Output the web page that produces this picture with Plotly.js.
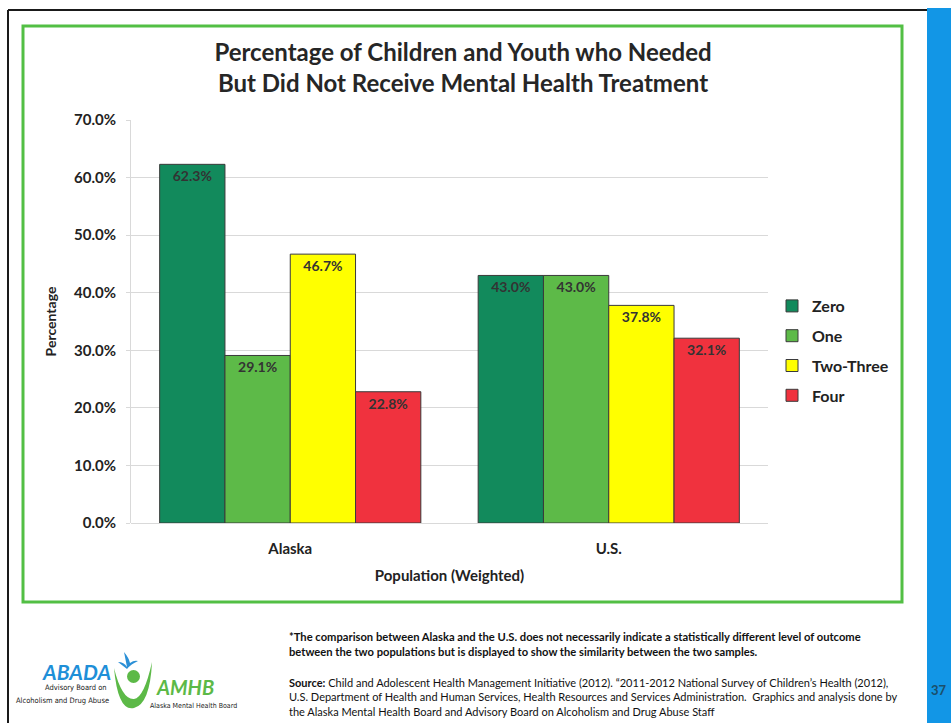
<!DOCTYPE html>
<html>
<head>
<meta charset="utf-8">
<script src="https://cdn.plot.ly/plotly-3.0.1.min.js"></script>
<style>html,body{margin:0;padding:0;background:#fff;}#chart{width:951px;height:723px;}</style>
</head>
<body>
<div id="chart"></div>
<script>
// ---- data ----
const categories = ["Alaska", "U.S."];
const seriesNames = ["Zero", "One", "Two-Three", "Four"];
const zeroVals = [62.3, 43.0];
const oneVals = [29.1, 43.0];
const twoThreeVals = [46.7, 37.8];
const fourVals = [22.8, 32.1];
const yTickVals = [0, 10, 20, 30, 40, 50, 60, 70];

const colors = ["#128a5c", "#5dba48", "#ffff00", "#f0323e"];
const FONT = "Lato, 'Open Sans', sans-serif";
const NARROW = "'Liberation Sans Narrow', 'DejaVu Sans Condensed', sans-serif";

// plot area in pixels: x 131..768, y 120..523
const L = 131, R = 768, T = 120, B = 523, W = 951, H = 723;
const px = x => (x - L) / (R - L);
const py = y => (B - y) / (B - T);

const allVals = [zeroVals, oneVals, twoThreeVals, fourVals];
const traces = allVals.map((vals, i) => ({
  type: "bar",
  name: seriesNames[i],
  x: categories,
  y: vals,
  legendgroup: "g" + i,
  marker: {color: colors[i], line: {color: "#3a3a3a", width: 1}},
  text: vals.map(v => v.toFixed(1) + "%"),
  textposition: "inside",
  insidetextanchor: "end",
  textangle: 0,
  constraintext: "none",
  textfont: {family: FONT, size: 14, color: "#333333", weight: "bold"},
  hoverinfo: "skip"
}));

const shapes = [
  // scanned page frame
  {type: "line", xref: "paper", yref: "paper", x0: px(8), x1: px(8), y0: py(10), y1: py(723), line: {color: "#1a1a1a", width: 2}},
  {type: "line", xref: "paper", yref: "paper", x0: px(8), x1: px(927), y0: py(10), y1: py(10), line: {color: "#1a1a1a", width: 2}},
  // green chart border
  {type: "rect", xref: "paper", yref: "paper", x0: px(23), x1: px(902), y0: py(26), y1: py(602), line: {color: "#52bf44", width: 3}, layer: "below"},
  // blue side strip
  {type: "rect", xref: "paper", yref: "paper", x0: px(927), x1: px(951), y0: py(8), y1: py(723), fillcolor: "#1296e6", line: {width: 0}, layer: "below"},
  // logo figure: head + arms
  {type: "circle", xref: "paper", yref: "paper", x0: px(127), x1: px(140), y0: py(670), y1: py(683), fillcolor: "#5cb947", line: {width: 0}},
  {type: "path", xref: "paper", yref: "paper",
   path: `M ${px(114)} ${py(668)} Q ${px(118)} ${py(712)} ${px(134)} ${py(708)} Q ${px(150)} ${py(704)} ${px(152)} ${py(662)} Q ${px(144)} ${py(698)} ${px(134)} ${py(699)} Q ${px(122)} ${py(700)} ${px(114)} ${py(668)} Z`,
   fillcolor: "#5cb947", line: {width: 0}},
  // bird
  {type: "path", xref: "paper", yref: "paper",
   path: `M ${px(118)} ${py(662)} Q ${px(124)} ${py(662)} ${px(127)} ${py(667)} L ${px(124)} ${py(652)} Q ${px(129)} ${py(658)} ${px(130)} ${py(663)} Q ${px(134)} ${py(660)} ${px(138)} ${py(661)} Q ${px(131)} ${py(664)} ${px(127)} ${py(669)} Z`,
   fillcolor: "#2a8fd6", line: {width: 0}}
];

const annotations = [
  {text: "*The comparison between Alaska and the U.S. does not necessarily indicate a statistically different level of outcome<br>between the two populations but is displayed to show the similarity between the two samples.",
   xref: "paper", yref: "paper", x: px(287), y: py(628), xanchor: "left", yanchor: "top", align: "left", showarrow: false,
   font: {family: FONT, size: 11.2, color: "#111", weight: "bold"}},
  {text: "<b>Source:</b> Child and Adolescent Health Management Initiative (2012). \u201C2011-2012 National Survey of Children\u2019s Health (2012),<br>U.S. Department of Health and Human Services, Health Resources and Services Administration.  Graphics and analysis done by<br>the Alaska Mental Health Board and Advisory Board on Alcoholism and Drug Abuse Staff",
   xref: "paper", yref: "paper", x: px(287), y: py(674), xanchor: "left", yanchor: "top", align: "left", showarrow: false,
   font: {family: FONT, size: 11, color: "#111"}},
  {text: "37", xref: "paper", yref: "paper", x: px(939), y: py(690), xanchor: "center", yanchor: "middle", showarrow: false,
   font: {family: FONT, size: 13, color: "#1b4f6a", weight: "bold"}},
  // logo text
  {text: "<b><i>ABADA</i></b>", xref: "paper", yref: "paper", x: px(76), y: py(671), xanchor: "center", yanchor: "middle", showarrow: false,
   font: {family: FONT, size: 21, color: "#1e8fd8"}},
  {text: "Advisory Board on", xref: "paper", yref: "paper", x: px(76), y: py(687), xanchor: "center", yanchor: "middle", showarrow: false,
   font: {family: NARROW, size: 7.5, color: "#222"}},
  {text: "Alcoholism and Drug Abuse", xref: "paper", yref: "paper", x: px(62), y: py(700), xanchor: "center", yanchor: "middle", showarrow: false,
   font: {family: NARROW, size: 7.5, color: "#222"}},
  {text: "<b><i>AMHB</i></b>", xref: "paper", yref: "paper", x: px(185), y: py(687), xanchor: "center", yanchor: "middle", showarrow: false,
   font: {family: FONT, size: 20, color: "#5cb947"}},
  {text: "Alaska Mental Health Board", xref: "paper", yref: "paper", x: px(193), y: py(706), xanchor: "center", yanchor: "middle", showarrow: false,
   font: {family: NARROW, size: 7, color: "#222"}}
];

const layout = {
  width: W, height: H,
  margin: {l: L, r: W - R, t: T, b: H - B, pad: 0},
  paper_bgcolor: "#ffffff", plot_bgcolor: "#ffffff",
  font: {family: FONT, color: "#222"},
  title: {
    text: "Percentage of Children and Youth who Needed<br>But Did Not Receive Mental Health Treatment",
    xref: "container", yref: "container", x: 463 / W, y: 1 - 61 / H, xanchor: "center", yanchor: "middle",
    font: {family: FONT, size: 24, color: "#262626", weight: "bold"}
  },
  barmode: "group", bargap: 0.18, bargroupgap: 0,
  xaxis: {
    type: "category", showgrid: false, zeroline: false, showline: false, ticks: "",
    tickfont: {family: FONT, size: 15, color: "#222", weight: "bold"},
    ticklabelstandoff: 15,
    title: {text: "Population (Weighted)", standoff: 14, font: {family: FONT, size: 15, color: "#222", weight: "bold"}},
    fixedrange: true
  },
  yaxis: {
    range: [0, 70], tickvals: yTickVals, ticktext: yTickVals.map(v => v.toFixed(1) + "%"),
    showgrid: true, gridcolor: "#d9d9d9", gridwidth: 1, zeroline: true, zerolinecolor: "#d9d9d9",
    showline: true, linecolor: "#d9d9d9", ticks: "outside", ticklen: 4, tickcolor: "#d9d9d9",
    ticklabelstandoff: 7,
    tickfont: {family: FONT, size: 15, color: "#222", weight: "bold"},
    title: {text: "Percentage", standoff: 14, font: {family: FONT, size: 14, color: "#222", weight: "bold"}},
    fixedrange: true
  },
  showlegend: true,
  legend: {
    x: px(772), y: py(289), xanchor: "left", yanchor: "top", bgcolor: "rgba(0,0,0,0)",
    font: {family: FONT, size: 16, color: "#222", weight: "bold"},
    traceorder: "grouped", tracegroupgap: 6
  },
  shapes: shapes,
  annotations: annotations
};

Plotly.newPlot("chart", traces, layout, {displayModeBar: false, staticPlot: true});
</script>
</body>
</html>
